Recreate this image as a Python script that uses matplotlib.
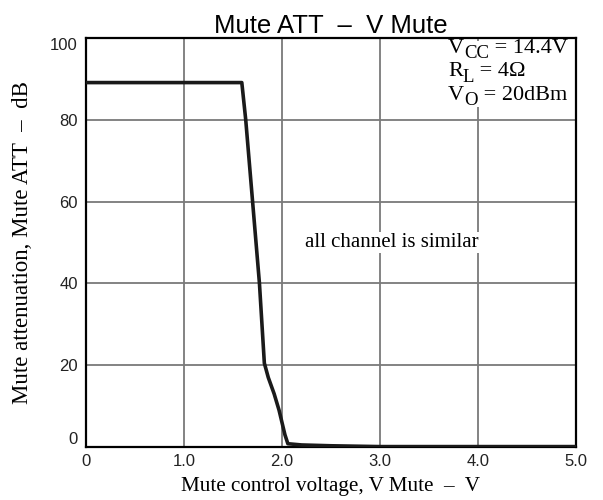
import matplotlib
matplotlib.use("Agg")
import matplotlib.pyplot as plt
from matplotlib.patches import Rectangle

# curve
v_mute = [0.0, 1.59, 1.63, 1.70, 1.77, 1.82, 1.86, 1.92, 1.97, 2.00, 2.03, 2.06, 2.2, 2.5, 3.0, 5.0]
att_db = [89.1, 89.1, 80.0, 60.0, 40.0, 20.5, 17.0, 13.0, 9.0, 6.0, 3.0, 0.8, 0.5, 0.3, 0.1, 0.1]

xticks = [0, 1, 2, 3, 4, 5]
xlabels = ["0", "1.0", "2.0", "3.0", "4.0", "5.0"]
yticks = [0, 20, 40, 60, 80, 100]
ylabels = ["0", "20", "40", "60", "80", "100"]

# (main, subscript, rest)
cond_lines = [("V", "CC", " = 14.4V"), ("R", "L", " = 4\u03a9"), ("V", "O", " = 20dBm")]

fig = plt.figure(figsize=(6.03, 5.0), dpi=100)
ax = fig.add_axes([0.1426, 0.106, 0.8126, 0.818])

ax.plot(v_mute, att_db, color="#1a1a1a", lw=2.6, solid_joinstyle="round", zorder=3)

ax.set_xlim(0, 5)
ax.set_ylim(0, 100)
ax.set_xticks(xticks)
ax.set_xticklabels(xlabels, family="Liberation Sans", fontsize=12, color="#222222")
ax.set_yticks(yticks)
ax.set_yticklabels(ylabels, family="Liberation Sans", fontsize=12, color="#222222")
ylab = ax.get_yticklabels()
ylab[0].set_va("bottom")
ylab[-1].set_va("top")
ax.tick_params(length=0, pad=6)
ax.tick_params(axis="x", pad=5)
ax.grid(True, color="#7a7a7a", lw=1.3)
for s in ax.spines.values():
    s.set_linewidth(1.6)
    s.set_color("black")

ax.set_title("Mute ATT  \u2013  V Mute", family="Liberation Sans", fontsize=18.5, pad=3)
ax.set_xlabel("Mute control voltage, V Mute  \u2013  V", family="Liberation Serif", fontsize=15.2, labelpad=6)
ax.set_ylabel("Mute attenuation, Mute ATT  \u2013  dB", family="Liberation Serif", fontsize=16.5, labelpad=12)

ax.text(3.12, 50, "all channel is similar", family="Liberation Serif", fontsize=15,
        ha="center", va="center", bbox=dict(fc="white", ec="none", pad=1), zorder=4)

# white patch behind the condition block (hides the 4.0 grid line there)
fig.patches.append(Rectangle((445 / 603, 1 - 107 / 500), 126 / 603, 66 / 500,
                             transform=fig.transFigure, fc="white", ec="none", zorder=4))

# condition block, left aligned, subscripts sit low and fairly large
renderer = fig.canvas.get_renderer()
x_left = 448
for i, (main, sub, rest) in enumerate(cond_lines):
    base_y = 500 - (53 + i * 23.5)
    t_main = fig.text(x_left / 603, base_y / 500, main, family="Liberation Serif", fontsize=16,
                      ha="left", va="baseline", zorder=5)
    x = x_left + t_main.get_window_extent(renderer).width
    t_sub = fig.text(x / 603, (base_y - 5) / 500, sub, family="Liberation Serif", fontsize=13.5,
                     ha="left", va="baseline", zorder=5)
    x += t_sub.get_window_extent(renderer).width
    fig.text(x / 603, base_y / 500, rest, family="Liberation Serif", fontsize=16,
             ha="left", va="baseline", zorder=5)

fig.savefig("out.png", dpi=100)
